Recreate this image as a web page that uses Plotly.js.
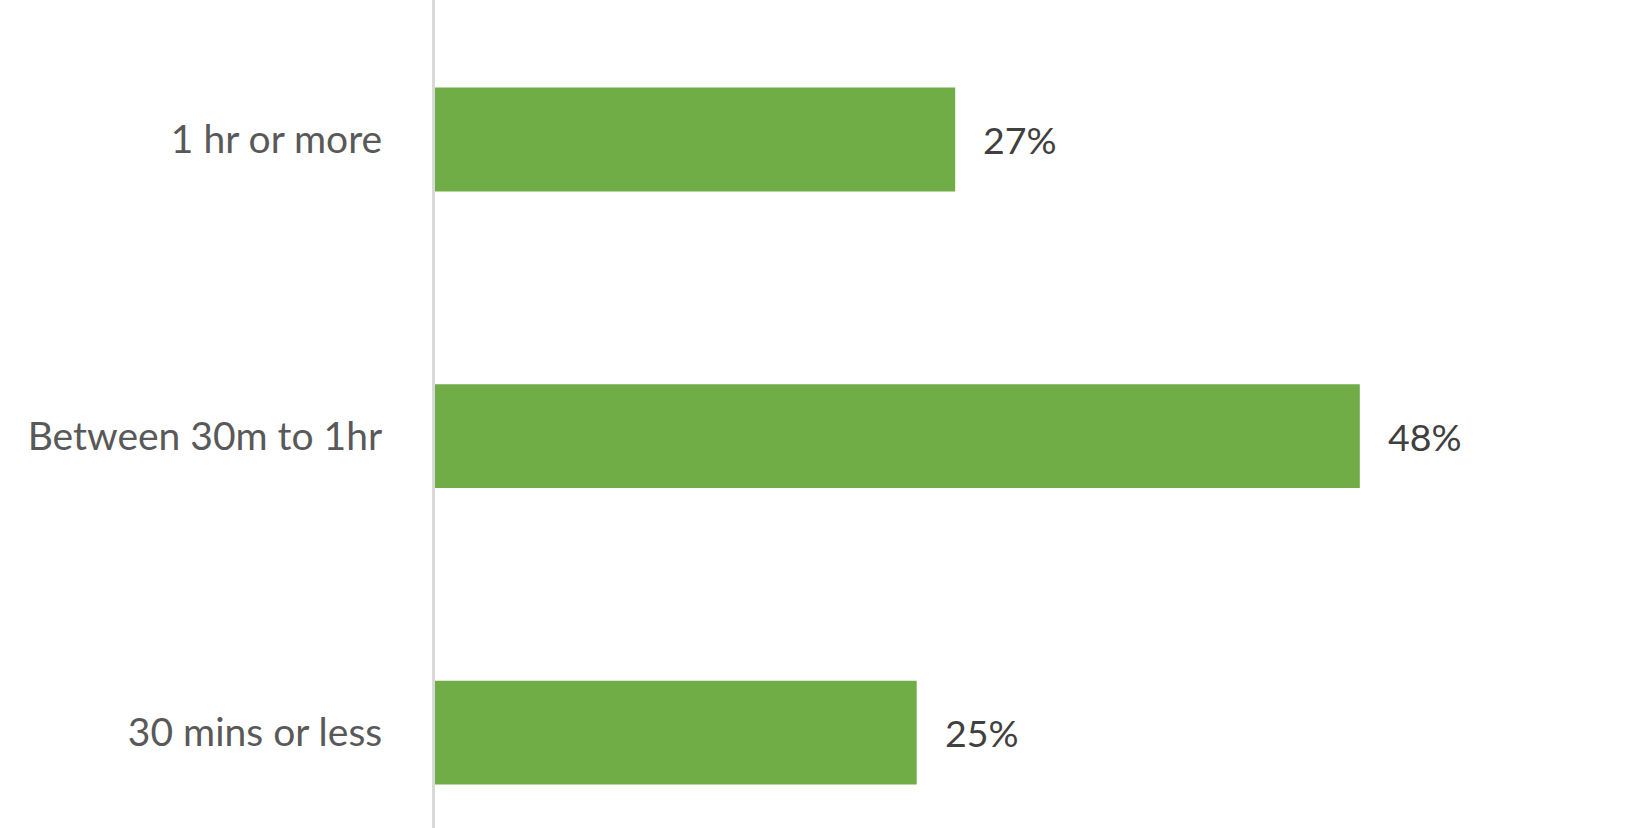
<!DOCTYPE html>
<html>
<head>
<meta charset="utf-8">
<script src="https://cdn.plot.ly/plotly-3.0.1.min.js"></script>
<style>
  html, body { margin: 0; padding: 0; background: #ffffff; }
  #chart { width: 1625px; height: 828px; }
</style>
</head>
<body>
<div id="chart"></div>
<script>
const categories = ["1 hr or more", "Between 30m to 1hr", "30 mins or less"];
const values = [27, 48, 25];
const valueLabels = ["27%", "48%", "25%"];

const trace = {
  type: "bar",
  orientation: "h",
  x: values,
  y: categories,
  marker: { color: "#70ad47" },
  hoverinfo: "skip"
};

const annotations = categories.map((c, i) => ({
  x: values[i],
  y: c,
  xref: "x",
  yref: "y",
  text: valueLabels[i],
  showarrow: false,
  xanchor: "left",
  yanchor: "middle",
  xshift: 26,
  font: { family: "Lato, 'Open Sans', sans-serif", size: 37.5, color: "#404040" }
}));

const layout = {
  width: 1625,
  height: 828,
  margin: { l: 435, r: 34, t: 0, b: 0 },
  paper_bgcolor: "#ffffff",
  plot_bgcolor: "#ffffff",
  showlegend: false,
  bargap: 0.65,
  xaxis: {
    range: [0, 60],
    showgrid: false,
    zeroline: false,
    showline: false,
    showticklabels: false,
    ticks: ""
  },
  yaxis: {
    type: "category",
    categoryorder: "array",
    categoryarray: categories,
    range: [2.322, -0.4705],
    showgrid: false,
    zeroline: false,
    showline: true,
    linecolor: "#d9d9d9",
    linewidth: 3,
    ticks: "",
    ticklabelstandoff: 42,
    tickfont: { family: "Lato, 'Open Sans', sans-serif", size: 39, color: "#595959" }
  },
  annotations: annotations
};

Plotly.newPlot("chart", [trace], layout, { displayModeBar: false, staticPlot: true });
</script>
</body>
</html>
